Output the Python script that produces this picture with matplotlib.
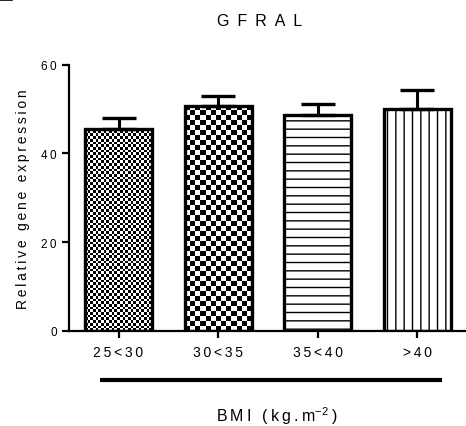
import numpy as np
import matplotlib
matplotlib.use("Agg")
import matplotlib.pyplot as plt
from matplotlib.lines import Line2D

plt.rcParams['font.family'] = ['Liberation Sans', 'DejaVu Sans']
plt.rcParams['mathtext.fontset'] = 'custom'
plt.rcParams['mathtext.rm'] = 'Liberation Sans'
plt.rcParams['mathtext.it'] = 'Liberation Sans'
plt.rcParams['hatch.linewidth'] = 1.0

# ---- data ----
title = "GFRAL"
categories = ["25<30", "30<35", "35<40", ">40"]
means = [45.6, 50.7, 48.6, 50.0]
sem = [2.3, 2.3, 2.5, 4.3]
yticks = [0, 20, 40, 60]
ylabel = "Relative gene expression"
xlabel_main = "BMI (kg.m"

TS = "\u2009"  # thin space for letter tracking


def sp(s, gap=TS):
    return gap.join(list(s))


fig = plt.figure(figsize=(4.66, 4.27), dpi=100)
W, H = 466, 427
ax = fig.add_axes([69 / W, (H - 332) / H, (W - 69) / W, (332 - 65.7) / H])

x = np.arange(len(categories))
bw = 0.67
bars = ax.bar(x, means, width=bw, facecolor='white', edgecolor='black',
              linewidth=0, zorder=2)
ax.set_xlim(-0.497, 3.487)
ax.set_ylim(0, 60)

# textures
bars[2].set_hatch('--')
bars[3].set_hatch('||')
for b in (bars[2], bars[3]):
    b.set_linewidth(0)

cells = [2.7, 5.0]
for i in (0, 1):
    b = bars[i]
    x0, y0 = b.get_x(), b.get_y()
    x1, y1 = x0 + b.get_width(), y0 + b.get_height()
    p0 = ax.transData.transform((x0, y0))
    p1 = ax.transData.transform((x1, y1))
    nx = max(1, int(round((p1[0] - p0[0]) / cells[i])))
    ny = max(1, int(round((p1[1] - p0[1]) / cells[i])))
    chk = (np.indices((ny, nx)).sum(axis=0) % 2).astype(float)
    im = ax.imshow(chk, cmap='gray', vmin=0, vmax=1, extent=(x0, x1, y0, y1),
                   aspect='auto', interpolation='nearest', origin='lower',
                   zorder=2.5)
    im.set_clip_path(b)

# outlines
ax.bar(x, means, width=bw, fill=False, edgecolor='black', linewidth=2.4,
       zorder=3)
# error bars (upper only)
ax.errorbar(x, means, yerr=[np.zeros(len(sem)), sem], fmt='none',
            ecolor='black', elinewidth=2.2, capsize=12.5, capthick=2.4,
            zorder=3.5)

ax.set_xlim(-0.497, 3.487)
ax.set_ylim(0, 60)

for s in ('top', 'right'):
    ax.spines[s].set_visible(False)
for s in ('left', 'bottom'):
    ax.spines[s].set_linewidth(1.6)

ax.set_yticks(yticks)
ax.set_yticklabels([sp(str(v)) for v in yticks], fontsize=8.5)
ax.set_xticks(x)
ax.set_xticklabels([sp(c) for c in categories], fontsize=10)
ax.tick_params(axis='both', direction='out', length=5.2, width=1.6,
               colors='black')
ax.tick_params(axis='y', pad=3.5)
ax.tick_params(axis='x', pad=5)

ax.set_ylabel(sp(ylabel), fontsize=10, labelpad=8)

fig.text(260 / W, 1 - 21 / H, sp(title, "\u2002"), fontsize=11.5,
         ha='center', va='center')

# group bracket line
fig.add_artist(Line2D([100 / W, 442 / W], [1 - 381 / H, 1 - 381 / H],
                      color='black', linewidth=3, solid_capstyle='butt'))
fig.text(277 / W, 1 - 416 / H, sp(xlabel_main) + r"$^{-2}$" + TS + ")",
         fontsize=11.5, ha='center', va='center')

# small crop artifact at top-left
fig.add_artist(Line2D([0, 12 / W], [1 - 0.5 / H, 1 - 0.5 / H],
                      color='black', linewidth=1.2))

fig.savefig("out.png", dpi=100)
